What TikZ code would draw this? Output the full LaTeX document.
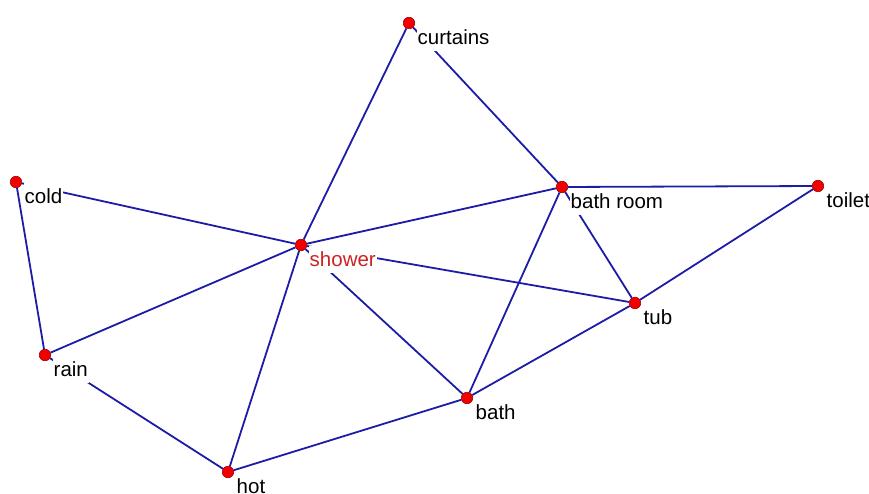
\documentclass[tikz,border=0pt]{standalone}
\usepackage{fontspec}
\setmainfont{Liberation Sans}
\definecolor{WordEdge}{HTML}{1C1CA6}
\definecolor{WordDot}{HTML}{F20000}
\definecolor{WordRim}{HTML}{A00000}
\definecolor{WordHub}{HTML}{CC2222}

\begin{document}
\begin{tikzpicture}[x=1pt,y=-1pt,
    dot/.style={circle,fill=WordDot,draw=WordRim,line width=0.6pt,inner sep=0pt,minimum size=11.5pt},
    link/.style={WordEdge,line width=1.8pt},
    word/.style={anchor=north west,fill=white,inner xsep=1pt,inner ysep=2pt,
      text height=18pt,text depth=5pt,font=\fontsize{20.5}{24}\selectfont}]
  \useasboundingbox (0,0) rectangle (869,494);
  \node[dot] (curtains) at (409,23) {};
  \node[dot] (cold) at (16,182) {};
  \node[dot] (shower) at (301,245) {};
  \node[dot] (bathroom) at (562,187) {};
  \node[dot] (toilet) at (818,186) {};
  \node[dot] (tub) at (635,303) {};
  \node[dot] (rain) at (45,355) {};
  \node[dot] (bath) at (467,398) {};
  \node[dot] (hot) at (228,472) {};
  \foreach \a/\b in {curtains/shower,curtains/bathroom,cold/rain,cold/shower,
      shower/bathroom,bathroom/toilet,bathroom/tub,bathroom/bath,shower/tub,
      shower/bath,rain/shower,rain/hot,shower/hot,hot/bath,bath/tub,tub/toilet}
    \draw[link] (\a) -- (\b);
  \node[word] (curtains-l) at ([shift={(7.5,1)}]curtains.center) {curtains};
  \node[word] (cold-l) at ([shift={(7.5,1)}]cold.center) {cold};
  \node[word,text=WordHub] (shower-l) at ([shift={(7.5,1)}]shower.center) {shower};
  \node[word] (bathroom-l) at ([shift={(7.5,1)}]bathroom.center) {bath room};
  \node[word] (toilet-l) at ([shift={(7.5,1)}]toilet.center) {toilet};
  \node[word] (tub-l) at ([shift={(7.5,1)}]tub.center) {tub};
  \node[word] (rain-l) at ([shift={(7.5,1)}]rain.center) {rain};
  \node[word] (bath-l) at ([shift={(7.5,1)}]bath.center) {bath};
  \node[word] (hot-l) at ([shift={(7.5,1)}]hot.center) {hot};
\end{tikzpicture}
\end{document}
